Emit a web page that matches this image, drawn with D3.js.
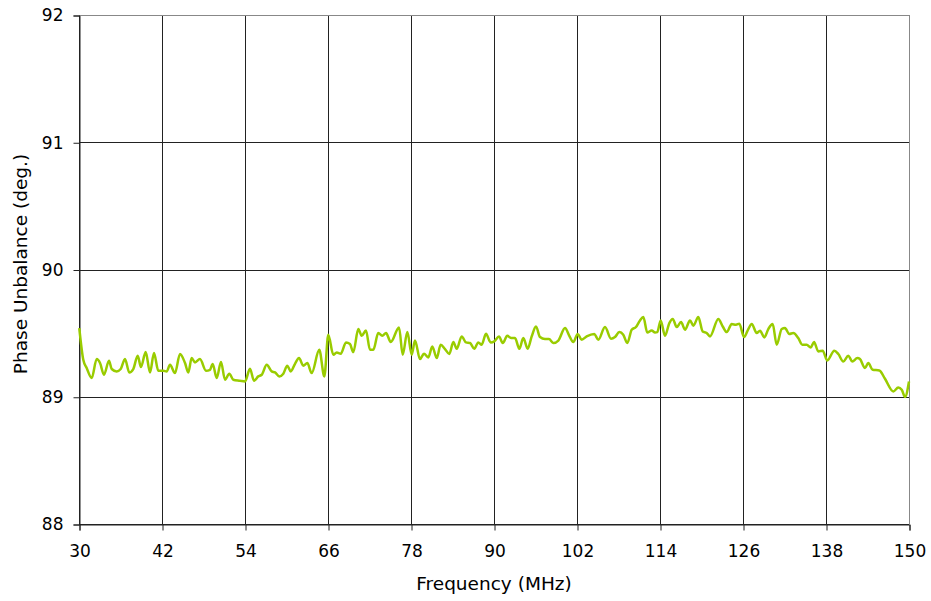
<!DOCTYPE html>
<html><head><meta charset="utf-8">
<script src="https://cdn.jsdelivr.net/npm/d3@7"></script>
<style>
html,body{margin:0;padding:0;background:#fff;}
text{font-family:"DejaVu Sans",Verdana,sans-serif;fill:#000;}
</style></head><body>
<svg id="chart" width="931" height="601"></svg>
<script>
const xTicks = [30,42,54,66,78,90,102,114,126,138,150];
const yTicks = [88,89,90,91,92];
const freq = [30.04,30.62,31.11,31.84,32.56,33.04,33.61,34.34,34.73,35.45,36.03,36.65,37.27,37.85,38.49,38.96,39.64,40.27,40.84,41.47,42.19,42.68,43.16,43.88,44.60,45.33,45.80,46.29,46.77,47.49,48.36,48.94,49.33,49.91,50.53,51.11,51.73,52.31,53.28,54.00,54.72,55.30,55.92,56.42,57.14,57.86,58.34,58.96,59.54,60.12,60.61,61.23,61.81,62.43,63.01,63.64,64.74,65.47,66.04,66.77,67.26,67.84,68.60,69.18,69.66,70.38,
70.87,71.49,72.07,72.55,73.27,73.85,74.39,75.07,76.27,76.80,77.47,78.10,78.58,79.30,79.88,80.50,81.08,81.72,82.29,82.92,83.54,84.12,84.61,85.33,85.95,86.53,87.15,87.73,88.22,88.84,89.52,90.04,90.72,91.26,91.92,92.46,93.04,93.66,94.24,94.87,95.45,96.07,96.65,97.37,97.95,98.57,99.30,100.27,100.89,101.47,102.10,102.68,103.40,104.50,105.08,106.05,106.92,107.49,108.12,108.69,109.27,109.91,110.53,111.11,
111.59,112.16,112.80,113.28,113.61,114.10,114.72,115.35,115.84,116.42,117.04,117.62,118.34,118.82,119.54,120.17,120.75,121.23,122.43,123.07,123.65,124.37,124.99,125.47,126.15,126.77,127.26,127.98,128.46,129.08,129.66,130.29,130.87,131.60,132.07,132.69,133.27,133.99,134.57,135.21,135.79,136.27,136.89,137.52,138.19,139.20,139.78,140.50,141.23,141.80,142.53,142.91,143.64,144.11,144.75,145.71,146.53,147.73,148.45,148.95,149.42,150.00];
const phase = [89.540,89.291,89.226,89.147,89.296,89.265,89.173,89.283,89.218,89.199,89.218,89.296,89.191,89.218,89.322,89.233,89.351,89.191,89.343,89.204,89.204,89.199,89.251,89.186,89.336,89.265,89.191,89.304,89.270,89.296,89.204,89.212,89.257,89.147,89.273,89.134,89.181,89.134,89.126,89.120,89.220,89.126,89.160,89.173,89.251,89.199,89.191,89.160,89.181,89.244,89.199,89.259,89.304,89.244,89.265,89.186,89.369,89.160,89.487,89.330,89.348,89.338,89.427,89.414,89.351,89.532,
89.479,89.521,89.369,89.369,89.501,89.479,89.501,89.430,89.545,89.330,89.508,89.330,89.442,89.296,89.338,89.309,89.395,89.304,89.409,89.375,89.336,89.430,89.377,89.474,89.427,89.422,89.377,89.427,89.409,89.495,89.427,89.435,89.474,89.422,89.479,89.461,89.461,89.377,89.461,89.377,89.474,89.552,89.469,89.453,89.453,89.422,89.442,89.540,89.479,89.430,89.493,89.448,89.474,89.493,89.448,89.548,89.456,89.469,89.508,89.487,89.422,89.527,89.548,89.600,
89.626,89.505,89.521,89.505,89.508,89.600,89.479,89.579,89.611,89.548,89.587,89.527,89.600,89.558,89.626,89.513,89.501,89.474,89.611,89.552,89.508,89.571,89.566,89.574,89.469,89.532,89.571,89.501,89.519,89.466,89.532,89.571,89.409,89.532,89.540,89.493,89.501,89.461,89.409,89.409,89.387,89.430,89.356,89.362,89.285,89.362,89.336,89.277,89.322,89.277,89.304,89.296,89.226,89.265,89.212,89.207,89.141,89.042,89.073,89.055,88.998,89.120];

const svg = d3.select("#chart");
const m = {left:79, right:22, top:15, bottom:77};
const W = 931, H = 601;
const x = d3.scaleLinear().domain([30,150]).range([m.left, W - m.right]);
const y = d3.scaleLinear().domain([88,92]).range([H - m.bottom, m.top]);

// gridlines
svg.append("g").selectAll("line.v").data(xTicks).join("line")
  .attr("x1", d => x(d)+0.5).attr("x2", d => x(d)+0.5)
  .attr("y1", y(92)).attr("y2", y(88))
  .attr("stroke", "#222").attr("stroke-width", 1);
svg.append("g").selectAll("line.h").data(yTicks).join("line")
  .attr("x1", x(30)).attr("x2", x(150))
  .attr("y1", d => Math.round(y(d))+0.5).attr("y2", d => Math.round(y(d))+0.5)
  .attr("stroke", "#222").attr("stroke-width", 1);
// top/right border lighter
svg.append("line").attr("x1", x(30)).attr("x2", x(150)).attr("y1", Math.round(y(92))+0.5).attr("y2", Math.round(y(92))+0.5).attr("stroke","#888");
svg.append("line").attr("x1", x(150)+0.5).attr("x2", x(150)+0.5).attr("y1", y(92)).attr("y2", y(88)).attr("stroke","#888");

// axes
const xAxis = d3.axisBottom(x).tickValues(xTicks).tickSize(6).tickPadding(14).tickFormat(d3.format("d"));
const gx = svg.append("g").attr("transform", `translate(0.5,${Math.round(y(88))+0.5})`).call(xAxis);
gx.select(".domain").attr("stroke","#222");
gx.selectAll(".tick line").attr("stroke","#222");
gx.selectAll("text").attr("font-size", 17).attr("font-family","DejaVu Sans").attr("fill","#000");

const yAxis = d3.axisLeft(y).tickValues(yTicks).tickSize(6).tickPadding(10).tickFormat(d3.format("d"));
const gy = svg.append("g").attr("transform", `translate(${x(30)+0.5},0.5)`).call(yAxis);
gy.select(".domain").attr("stroke","#222");
gy.selectAll(".tick line").attr("stroke","#222");
gy.selectAll("text").attr("font-size", 17).attr("font-family","DejaVu Sans").attr("fill","#000");

// line
const pts = freq.map((f,i) => [f, phase[i]]);
svg.append("path").datum(pts)
  .attr("fill","none").attr("stroke","#99cc00").attr("stroke-width",2.5)
  .attr("stroke-linejoin","round")
  .attr("d", d3.line().x(d => x(d[0])).y(d => y(d[1])).curve(d3.curveMonotoneX));

// titles
svg.append("text").attr("x", 494).attr("y", 590).attr("text-anchor","middle")
  .attr("font-size", 18.5).text("Frequency (MHz)");
svg.append("text").attr("transform","translate(27,264) rotate(-90)").attr("text-anchor","middle")
  .attr("font-size", 18.5).text("Phase Unbalance (deg.)");
</script>
</body></html>
